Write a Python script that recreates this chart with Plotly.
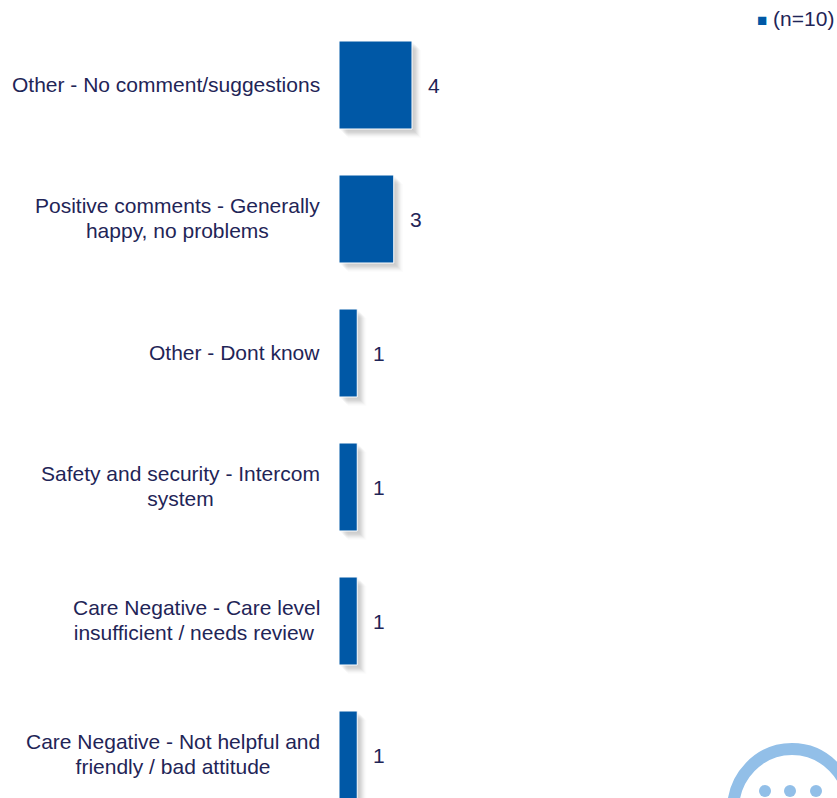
import plotly.graph_objects as go

categories = [
    "Other - No comment/suggestions",
    "Positive comments - Generally<br>happy, no problems",
    "Other - Dont know",
    "Safety and security - Intercom<br>system",
    "Care Negative - Care level<br>insufficient / needs review ",
    "Care Negative - Not helpful and<br>friendly / bad attitude",
]
values = [4, 3, 1, 1, 1, 1]
series_name = "(n=10)"

W, H = 837, 798
X0 = 339          # pixel of value 0
PX_PER_UNIT = 18.25
CENTER0, PITCH = 85, 134
BAR_H = 88
BLUE = "#0058a6"
INK = "#1f2557"
LOGO = "#92bfe8"
FONT = "Liberation Sans, Arial, sans-serif"
FS = 21
LINE_FS = 19      # sets the line pitch of wrapped labels

xr = [0, (W - X0) / PX_PER_UNIT]
yr = [(H - CENTER0) / PITCH, -CENTER0 / PITCH]

fig = go.Figure()
shadow_layers = [(1, 0.02), (2, 0.03), (3, 0.04), (4, 0.05), (5, 0.05), (6, 0.045), (7, 0.035), (8, 0.025), (9, 0.015)]
layout = {}
for i, (off, alpha) in enumerate(shadow_layers + [(0, 1)]):
    sfx = "" if i == 0 else str(i + 1)
    is_main = i == len(shadow_layers)
    fig.add_trace(go.Bar(
        x=values, y=categories, orientation="h", width=BAR_H / PITCH,
        name=series_name, showlegend=False, hoverinfo="skip" if not is_main else None,
        marker=dict(color=BLUE if is_main else f"rgba(70,70,70,{alpha})",
                    line=dict(color="#ffffff", width=1 if is_main else 0)),
        xaxis="x" + sfx, yaxis="y" + sfx,
    ))
    layout["xaxis" + sfx] = dict(domain=[X0 / W, 1], range=[xr[0] - off / PX_PER_UNIT, xr[1] - off / PX_PER_UNIT],
                                 visible=False, fixedrange=True, anchor="y" + sfx)
    layout["yaxis" + sfx] = dict(domain=[0, 1], range=[yr[0] - off / PITCH, yr[1] - off / PITCH],
                                 type="category", categoryorder="array", categoryarray=categories,
                                 visible=False, fixedrange=True, anchor="x" + sfx)
main = str(len(shadow_layers) + 1)

def sized(label):
    return "<br>".join(f'<span style="font-size:{FS}px">{part}</span>' for part in label.split("<br>"))

ann = []
for c, v in zip(categories, values):
    ann.append(dict(x=0, y=c, xref="x" + main, yref="y" + main, text=sized(c), showarrow=False, xanchor="right",
                    align="center", xshift=-17, yshift=1, font=dict(family=FONT, size=LINE_FS, color=INK)))
    ann.append(dict(x=v, y=c, xref="x" + main, yref="y" + main, text=str(v), showarrow=False, xanchor="left",
                    xshift=14, font=dict(family=FONT, size=FS, color=INK)))
ann.append(dict(x=1, y=1, xref="paper", yref="paper", xanchor="right", yanchor="top", showarrow=False, yshift=-5, xshift=-1,
                text=f'<span style="color:{BLUE};font-size:17px">■</span> {series_name}',
                font=dict(family=FONT, size=21, color=INK)))

def px(x): return x / W
def py(y): return 1 - y / H
shapes = [dict(type="circle", xref="paper", yref="paper", x0=px(733), x1=px(851), y0=py(749), y1=py(871),
               line=dict(color=LOGO, width=12), fillcolor="rgba(0,0,0,0)", layer="below")]
for cx in (765, 790, 816):
    shapes.append(dict(type="circle", xref="paper", yref="paper", x0=px(cx - 6), x1=px(cx + 6), y0=py(785), y1=py(797),
                       line=dict(width=0), fillcolor=LOGO, layer="below"))

fig.update_layout(width=W, height=H, margin=dict(l=0, r=0, t=0, b=0), paper_bgcolor="white", plot_bgcolor="rgba(0,0,0,0)",
                  barmode="overlay", showlegend=False, annotations=ann, shapes=shapes, **layout)
fig.write_html("out.html", config={"displayModeBar": False},
               post_script="document.body.style.margin='0';document.body.style.overflow='hidden';")
